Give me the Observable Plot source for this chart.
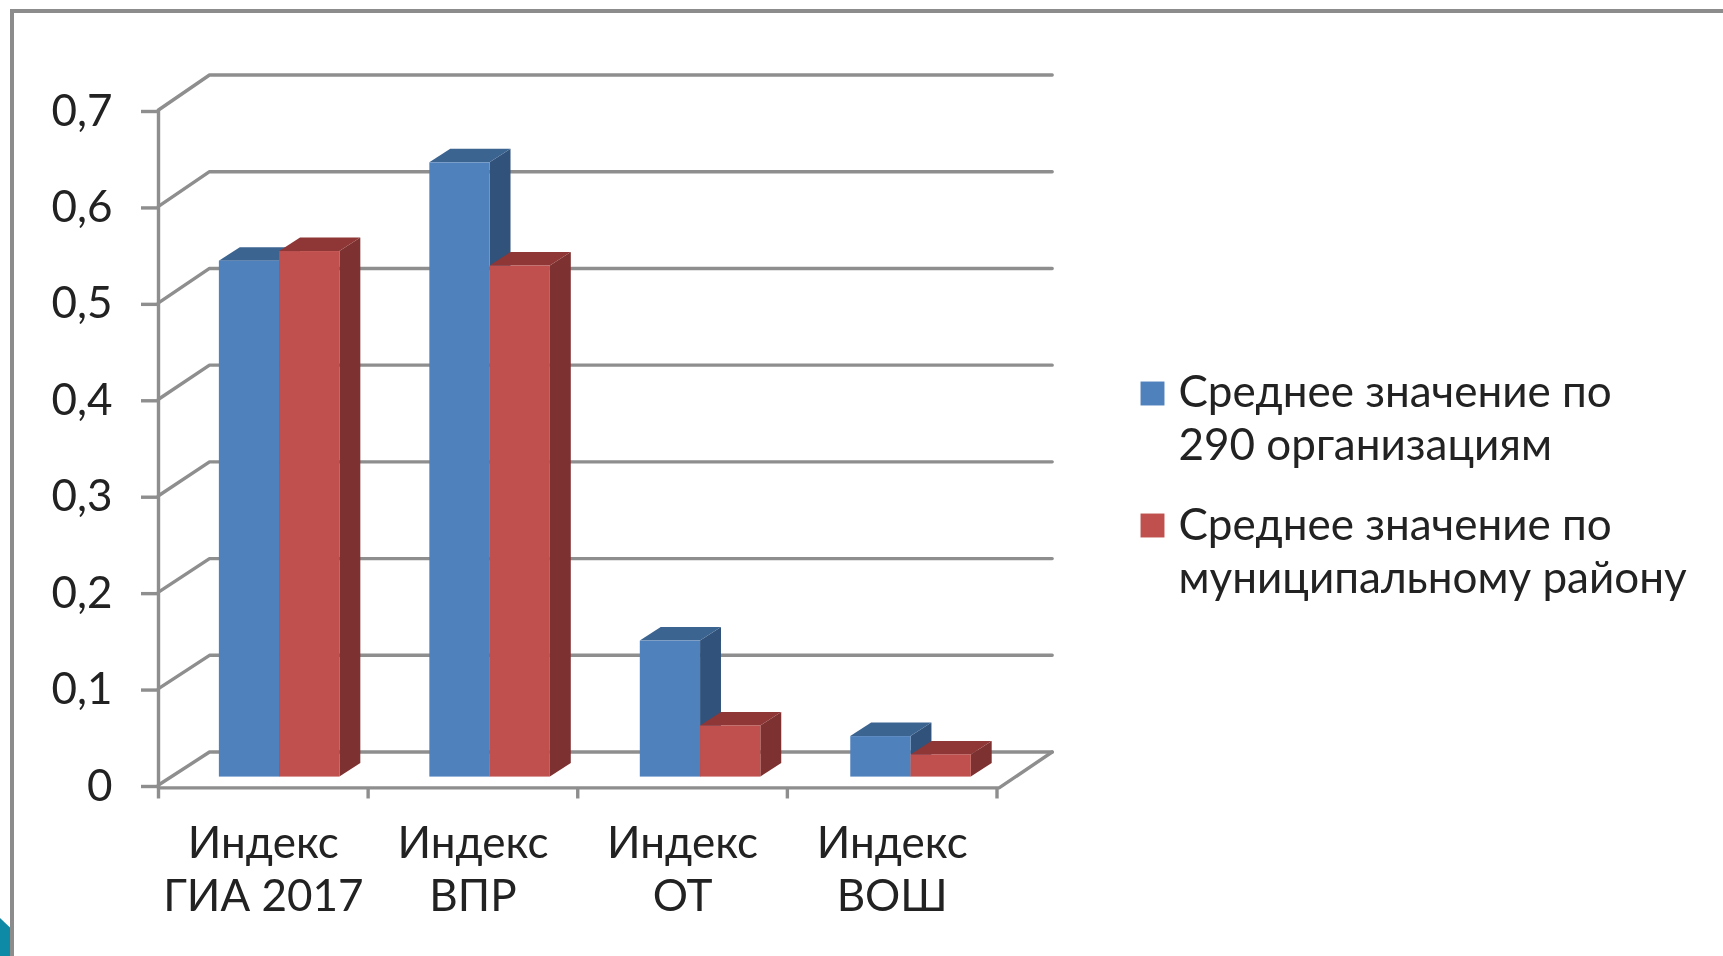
<!DOCTYPE html>
<html>
<head>
<meta charset="utf-8">
<script src="https://cdn.jsdelivr.net/npm/d3@7"></script>
<script src="https://cdn.jsdelivr.net/npm/@observablehq/plot@0.6"></script>
<style>
html,body{margin:0;padding:0;background:#fff;overflow:hidden}
#stage{position:relative;width:1723px;height:956px;overflow:hidden}
#slide{position:absolute;left:10px;top:9px;right:-10px;bottom:-10px;border-left:4px solid #8c8c8c;border-top:4px solid #8c8c8c;box-sizing:border-box}
#corner{position:absolute;left:0;top:918px;width:10px;height:38px;background:#0f8aa6;clip-path:polygon(0 0,100% 25%,100% 100%,0 100%)}
svg{position:absolute;left:0;top:0;filter:blur(.6px)}
</style>
</head>
<body>
<div id="stage"><div id="slide"></div><div id="corner"></div></div>
<script>
const categories = ["Индекс\nГИА 2017", "Индекс\nВПР", "Индекс\nОТ", "Индекс\nВОШ"];
const seriesNames = ["Среднее значение по\n290 организациям", "Среднее значение по\nмуниципальному району"];
const blueValues = [0.535, 0.637, 0.141, 0.042];
const redValues = [0.545, 0.530, 0.053, 0.023];
const yTicks = [0, 0.1, 0.2, 0.3, 0.4, 0.5, 0.6, 0.7];
const xEdges = [0, 1, 2, 3, 4];

// oblique projection: how far the depth axis moves a point, in scale units
const depthX = 0.2433, depthY = 0.0342, backScale = 1.003;
const barFront = 0.24, barBack = 0.65, barStart = 0.232, barStep = 1.004, barWidth = 0.2875;
const floorY = -0.003;
const grid = "#8e8e8e", ink = "#222";
const font = "Lato, sans-serif";
const labelSize = 44, labelLeading = 53 / 44;

const px = (x, d) => x + d * depthX;
const py = (v, d) => v + d * depthY;

function bars(values, slot) {
  return values.map((v, i) => ({i, v, x1: i * barStep + barStart + slot * barWidth, x2: i * barStep + barStart + (slot + 1) * barWidth}));
}
function sideFace(rows) {
  return rows.flatMap(r => [barFront, barBack].map(d => ({k: r.i, x: px(r.x2, d), y1: py(0, d), y2: py(r.v, d)})));
}
function topFace(rows) {
  return rows.flatMap(r => [barFront, barBack].map(d => ({k: r.i, y: py(r.v, d), x1: px(r.x1, d), x2: px(r.x2, d)})));
}
function barMarks(values, slot, front, side, top) {
  const rows = bars(values, slot);
  return [
    Plot.areaY(sideFace(rows), {x: "x", y1: "y1", y2: "y2", z: "k", fill: side}),
    Plot.areaX(topFace(rows), {y: "y", x1: "x1", x2: "x2", z: "k", fill: top}),
    Plot.rect(rows, {
      x1: r => px(r.x1, barFront), x2: r => px(r.x2, barFront),
      y1: () => py(0, barFront), y2: r => py(r.v, barFront), fill: front
    })
  ];
}

const wallLines = yTicks.flatMap(t => [
  {k: t, x: 0, y: t},
  {k: t, x: depthX, y: t * backScale + depthY},
  {k: t, x: 4.02 + depthX, y: t * backScale + depthY}
]);
const floorLines = [
  {x: 0, y: floorY},
  {x: 4.01, y: floorY},
  {x: 4.02 + depthX, y: depthY}
];
const lineStyle = {stroke: grid, strokeWidth: 3.4, strokeLinejoin: "miter"};

const chart = Plot.plot({
  width: 1723,
  height: 956,
  marginLeft: 158,
  marginTop: 0,
  marginRight: 0,
  marginBottom: 0,
  style: {background: "transparent", fontFamily: font, overflow: "visible"},
  x: {domain: [0, 4], range: [158, 996.5]},
  y: {domain: [0, 0.7], range: [784.5, 109.5]},
  marks: [
    Plot.line(wallLines, {x: "x", y: "y", z: "k", ...lineStyle}),
    Plot.line(floorLines, {x: "x", y: "y", ...lineStyle}),
    Plot.ruleX([0], {y1: floorY, y2: 0.7, stroke: grid, strokeWidth: 3.4}),
    Plot.ruleX(xEdges, {y1: floorY, y2: floorY - 0.0115, stroke: grid, strokeWidth: 3.4}),
    Plot.axisY(yTicks, {
      tickSize: 17, tickPadding: 29, stroke: grid, strokeWidth: 3.4, color: ink, fontSize: labelSize,
      dy: 1.5, tickFormat: v => String(v).replace(".", ","), label: null
    }),
    Plot.axisX({ticks: [], label: null, tickSize: 0}),
    ...barMarks(blueValues, 0, "#4f81bd", "#31527a", "#3c6491"),
    ...barMarks(redValues, 1, "#c0504d", "#7d3130", "#8f3736"),
    Plot.text(categories, {
      x: (d, i) => i + 0.5, y: () => 0, text: d => d,
      dy: 35, lineAnchor: "top", lineHeight: labelLeading, fontSize: labelSize, fill: ink, textAnchor: "middle"
    }),
    Plot.dot([seriesNames[0]], {frameAnchor: "top-left", dx: 994, dy: 393, r: 13.5, symbol: "square", fill: "#4f81bd"}),
    Plot.dot([seriesNames[1]], {frameAnchor: "top-left", dx: 994, dy: 525, r: 13.5, symbol: "square", fill: "#c0504d"}),
    Plot.text([seriesNames[0]], {frameAnchor: "top-left", dx: 1020, dy: 368.5, text: d => d, textAnchor: "start", lineAnchor: "top", lineHeight: labelLeading, fontSize: labelSize, fill: ink}),
    Plot.text([seriesNames[1]], {frameAnchor: "top-left", dx: 1020, dy: 501.5, text: d => d, textAnchor: "start", lineAnchor: "top", lineHeight: labelLeading, fontSize: labelSize, fill: ink})
  ]
});
document.getElementById("stage").appendChild(chart);
</script>
</body>
</html>
